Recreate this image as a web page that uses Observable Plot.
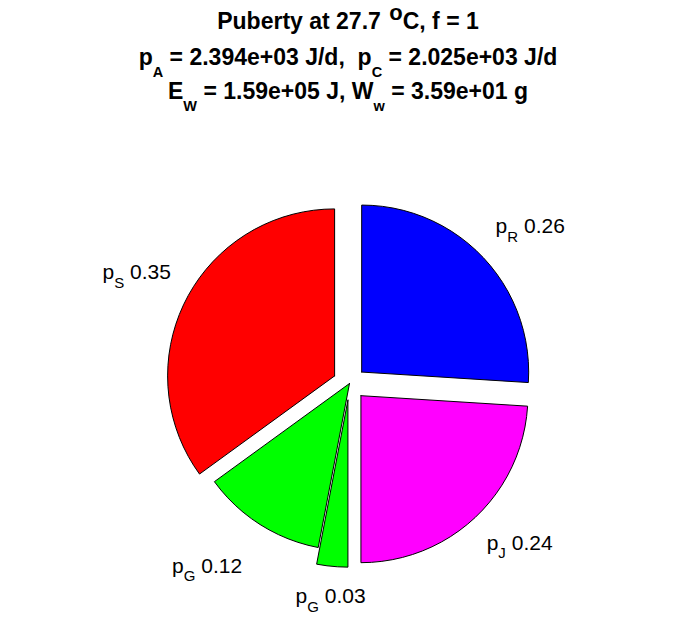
<!DOCTYPE html>
<html>
<head>
<meta charset="utf-8">
<script src="https://cdn.jsdelivr.net/npm/d3@7"></script>
<script src="https://cdn.jsdelivr.net/npm/@observablehq/plot@0.6"></script>
<style>
  body { margin: 0; background: #fff; font-family: "Liberation Sans", Arial, Helvetica, sans-serif; }
  #wrap { position: relative; width: 696px; height: 618px; overflow: hidden; }
  #title { position: absolute; left: 0; top: 0; width: 696px; height: 120px; font-weight: bold; font-size: 23px; color: #000; }
  .tl { position: absolute; left: 0; width: 696px; text-align: center; line-height: 25px; white-space: pre; }
  .sb { font-size: 14.5px; position: relative; top: 12px; line-height: 0; }
  .sp { font-size: 22px; position: relative; top: -9px; line-height: 0; margin-left: 2px; }
  #chart { position: absolute; left: 0; top: 120px; }
</style>
</head>
<body>
<div id="wrap">
  <div id="title"></div>
  <div id="chart"></div>
</div>
<script>
// ---- data ----
const subscripts = ["S", "G", "G", "J", "R"];
const fractions  = [0.35, 0.12, 0.03, 0.24, 0.26];
const colors     = ["#ff0000", "#00ff00", "#00ff00", "#ff00ff", "#0000ff"];
const explode    = [1, 0, 1, 1, 1];
const stage = "Puberty";
const tempC = "27.7";
const fLevel = "1";
const pA = "2.394e+03", pC = "2.025e+03";
const EW = "1.59e+05", Ww = "3.59e+01";

// ---- title ----
const titleLines = [
  `${stage} at ${tempC} <span class="sp">o</span>C, f = ${fLevel}`,
  `p<span class="sb">A</span> = ${pA} J/d,  p<span class="sb">C</span> = ${pC} J/d`,
  `E<span class="sb">W</span> = ${EW} J, W<span class="sb">w</span> = ${Ww} g`
];
const titleTops = [9, 45, 79];
const tdiv = document.getElementById("title");
titleLines.forEach((t, i) => {
  const d = document.createElement("div");
  d.className = "tl";
  d.style.top = titleTops[i] + "px";
  d.innerHTML = t;
  tdiv.appendChild(d);
});

// ---- pie geometry (MATLAB-style: start at top, counterclockwise) ----
const slices = [];
const labels = [];
let theta0 = Math.PI / 2;
fractions.forEach((v, i) => {
  const n = Math.max(1, Math.ceil(100 * v));
  const mid = theta0 + v * Math.PI;
  const e = explode[i] ? 0.1 : 0;
  const ox = e * Math.cos(mid), oy = e * Math.sin(mid);
  const pts = [{x: ox, y: oy}];
  for (let k = 0; k <= n; k++) {
    const t = theta0 + 2 * Math.PI * v * k / n;
    pts.push({x: ox + Math.cos(t), y: oy + Math.sin(t)});
  }
  pts.push({x: ox, y: oy});
  slices.push({pts, color: colors[i]});
  const c = Math.cos(mid), s = Math.sin(mid);
  labels.push({
    x: 1.2 * c, y: 1.2 * s,
    text: `p_${subscripts[i]} ${v.toFixed(2)}`,
    anchor: c > 0.2 ? "start" : c < -0.2 ? "end" : "middle",
    up: s > 0
  });
  theta0 += 2 * Math.PI * v;
});

const W = 696, H = 498;
const R = 167, cx = 349, cy = 263;

const marks = slices.map(sl =>
  Plot.line(sl.pts, {x: "x", y: "y", fill: sl.color, stroke: "black", strokeWidth: 1, strokeLinejoin: "miter", curve: "linear"})
);
for (const anchor of ["start", "middle", "end"]) {
  for (const up of [true, false]) {
    const d = labels.filter(l => l.anchor === anchor && l.up === up);
    if (!d.length) continue;
    marks.push(Plot.text(d, {
      x: "x", y: "y", text: "text",
      textAnchor: anchor, lineAnchor: "middle",
      dy: up ? -20 : 13.5,
      fontSize: 21, fill: "black"
    }));
  }
}

const svg = Plot.plot({
  width: W, height: H,
  marginTop: 0, marginRight: 0, marginBottom: 0, marginLeft: 0,
  x: {domain: [-cx / R, (W - cx) / R], axis: null},
  y: {domain: [-(H - cy) / R, cy / R], axis: null},
  style: {fontFamily: "'Liberation Sans', Arial, Helvetica, sans-serif", background: "white", overflow: "visible"},
  marks
});

// subscript rendering for labels like "p_S 0.35"
svg.querySelectorAll("text").forEach(t => {
  const s = t.textContent;
  const m = s.match(/^(\w)_(\w)(.*)$/);
  if (!m) return;
  t.textContent = "";
  const ns = "http://www.w3.org/2000/svg";
  const a = document.createElementNS(ns, "tspan"); a.textContent = m[1];
  const b = document.createElementNS(ns, "tspan"); b.textContent = m[2];
  b.setAttribute("font-size", "15"); b.setAttribute("dy", "8.5");
  const c = document.createElementNS(ns, "tspan"); c.textContent = m[3].replace(/^ /, "\u00a0");
  c.setAttribute("dy", "-8.5");
  t.append(a, b, c);
});

document.getElementById("chart").appendChild(svg);
</script>
</body>
</html>
